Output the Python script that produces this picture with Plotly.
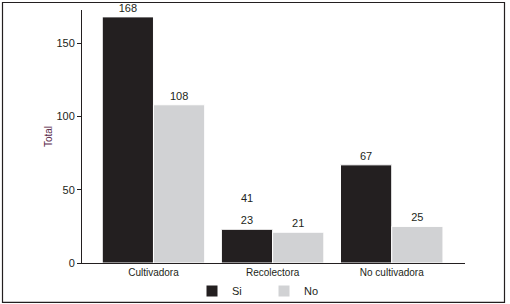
import plotly.graph_objects as go

categories = ["Cultivadora", "Recolectora", "No cultivadora"]
si_values = [168, 23, 67]
no_values = [108, 21, 25]
series_names = ["Si", "No"]
extra_label_category = "Recolectora"
extra_label_value = 41
y_ticks = [0, 50, 100, 150]

SI_COLOR = "#231f20"
NO_COLOR = "#d1d2d4"
FONT = "Liberation Sans, Arial, sans-serif"

fig = go.Figure()
for name, vals, col in [(series_names[0], si_values, SI_COLOR), (series_names[1], no_values, NO_COLOR)]:
    fig.add_trace(go.Bar(
        x=categories, y=vals, name=name,
        marker=dict(color=col, line=dict(color="white", width=1)),
        text=[str(v) for v in vals], textposition="outside",
        textfont=dict(family=FONT, size=11, color="#231f20"),
        cliponaxis=False,
    ))

fig.add_annotation(
    x=extra_label_category, y=extra_label_value, text=str(extra_label_value),
    xref="x", yref="y", xshift=-26, yshift=-3, yanchor="bottom", showarrow=False,
    font=dict(family=FONT, size=11, color="#231f20"),
)

W, H = 510, 304
L, R, T, B = 82, 45, 10, 0
AXIS_Y = 263  # pixel row of the x axis
pw, ph = W - L - R, H - T - B

def px(xp):
    return (xp - L) / pw

def py(yp):
    return (H - B - yp) / ph

fig.add_shape(type="rect", xref="paper", yref="paper",
              x0=px(2.5), x1=px(504.5), y0=py(302.3), y1=py(2.5),
              line=dict(color="#231f20", width=1.2), layer="below")

fig.update_layout(
    width=W, height=H,
    margin=dict(l=L, r=R, t=T, b=B, pad=0, autoexpand=False),
    paper_bgcolor="white", plot_bgcolor="white",
    barmode="group", bargap=0.14, bargroupgap=0,
    font=dict(family=FONT, size=11, color="#231f20"),
    showlegend=True,
    legend=dict(orientation="h", x=px(192), xanchor="left",
                y=py(291), yanchor="middle",
                font=dict(family=FONT, size=11, color="#231f20"),
                bgcolor="rgba(0,0,0,0)", entrywidth=27, itemclick=False),
    xaxis=dict(type="category", range=[-0.6, 2.615], showline=True, linecolor="#231f20",
               linewidth=1, ticks="", showgrid=False, zeroline=False, automargin=False,
               tickfont=dict(family=FONT, size=10, color="#231f20"), fixedrange=True),
    yaxis=dict(domain=[py(AXIS_Y), 1], range=[0, 172.7], tickvals=y_ticks, showline=True,
               linecolor="#231f20", linewidth=1, ticks="outside", ticklen=4,
               tickcolor="#231f20", showgrid=False, zeroline=False, automargin=False,
               tickfont=dict(family=FONT, size=11, color="#231f20"),
               title=dict(text="Total", font=dict(family=FONT, size=10, color="#5a2a4a"), standoff=1),
               fixedrange=True),
)

fig.write_html("out.html")
